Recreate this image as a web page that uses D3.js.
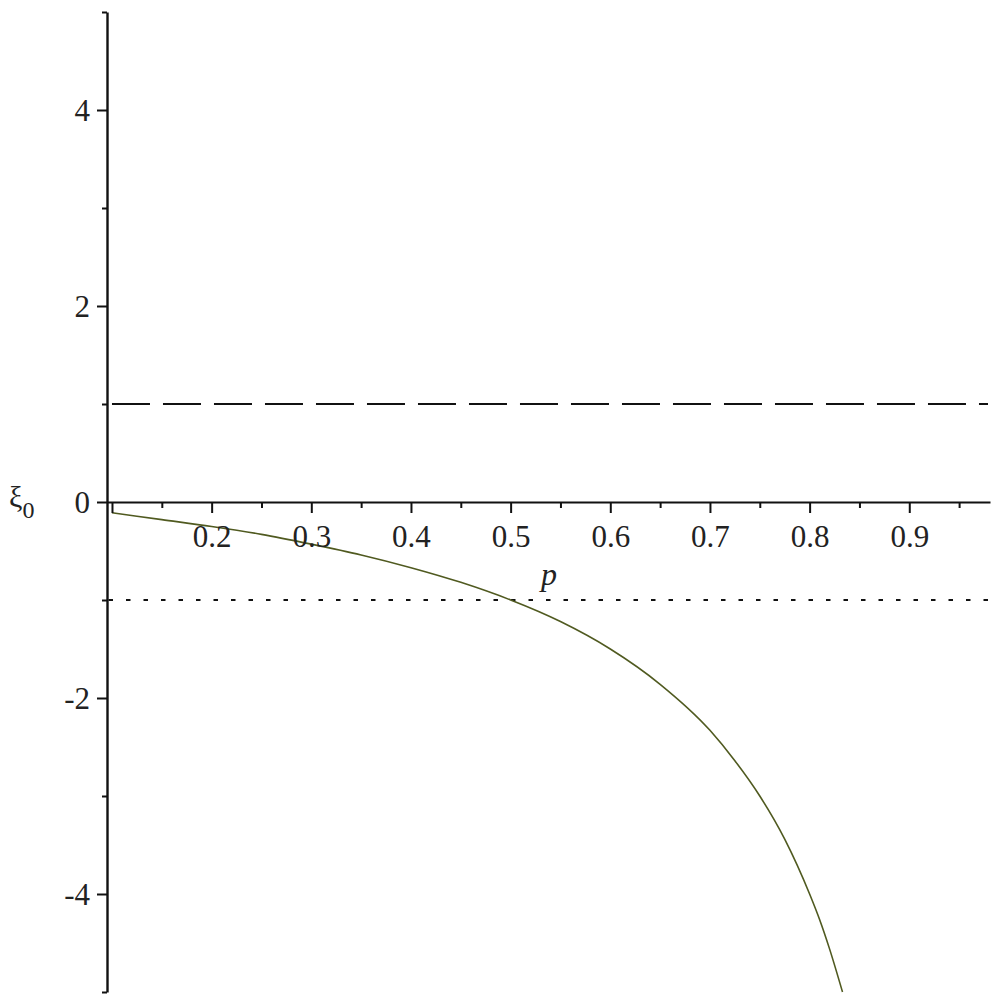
<!DOCTYPE html>
<html>
<head>
<meta charset="utf-8">
<script src="https://cdn.jsdelivr.net/npm/d3@7"></script>
<style>
  html, body { margin: 0; padding: 0; background: #fff; }
  svg { display: block; }
</style>
</head>
<body>
<svg id="chart" width="1000" height="997"></svg>
<script>
// ---- data ----
const pValues  = [0.10, 0.15, 0.20, 0.25, 0.30, 0.35, 0.40, 0.45, 0.50, 0.55, 0.60, 0.65, 0.70, 0.725, 0.75, 0.775, 0.80, 0.81, 0.82, 0.833];
const xiValues = [-0.11, -0.18, -0.25, -0.33, -0.43, -0.54, -0.67, -0.82, -1.00, -1.22, -1.50, -1.86, -2.33, -2.64, -3.00, -3.44, -4.00, -4.26, -4.56, -5.00];
const xMajorTicks = [0.1, 0.2, 0.3, 0.4, 0.5, 0.6, 0.7, 0.8, 0.9];
const xMinorTicks = [0.15, 0.25, 0.35, 0.45, 0.55, 0.65, 0.75, 0.85, 0.95];
const xTickLabels = ["", "0.2", "0.3", "0.4", "0.5", "0.6", "0.7", "0.8", "0.9"];
const yMajorTicks = [-4, -2, 0, 2, 4];
const yMinorTicks = [-5, -3, -1, 1, 3, 5];
const yTickLabels = ["-4", "-2", "0", "2", "4"];
const dashedLevel = 1;   // horizontal dashed line
const dottedLevel = -1;  // horizontal dotted line

const FONT = "\"Liberation Serif\"";

// ---- scales ----
const svg = d3.select("#chart");
const x = d3.scaleLinear().domain([0.095, 0.981]).range([107, 990]);
const y = d3.scaleLinear().domain([-5, 5]).range([992, 12]);

// ---- reference lines ----
svg.append("line")
  .attr("x1", x(0.1)).attr("x2", 988)
  .attr("y1", y(dashedLevel)).attr("y2", y(dashedLevel))
  .attr("stroke", "#111").attr("stroke-width", 2)
  .attr("stroke-dasharray", "38 13");

svg.append("line")
  .attr("x1", 108.5).attr("x2", 990)
  .attr("y1", y(dottedLevel)).attr("y2", y(dottedLevel))
  .attr("stroke", "#111").attr("stroke-width", 2)
  .attr("stroke-dasharray", "4.5 13");

// ---- curve ----
const line = d3.line()
  .x((d, i) => x(pValues[i]))
  .y(d => y(d))
  .curve(d3.curveMonotoneX);
svg.append("path")
  .datum(xiValues)
  .attr("d", line)
  .attr("fill", "none")
  .attr("stroke", "#505a20")
  .attr("stroke-width", 1.6);

// ---- x axis (through y=0) ----
const xAxisG = svg.append("g").attr("transform", `translate(0,${y(0)})`);
xAxisG.call(d3.axisBottom(x).tickValues(xMajorTicks).tickSize(11).tickSizeOuter(0)
  .tickFormat((d, i) => xTickLabels[i]));
xAxisG.attr("font-family", FONT).attr("font-size", 31);
xAxisG.select(".domain").attr("stroke", "#111").attr("stroke-width", 2.2);
xAxisG.selectAll(".tick line").attr("stroke", "#111").attr("stroke-width", 2);
xAxisG.selectAll(".tick text")
  .attr("y", 45).attr("dy", 0)
  .style("font-size", "31px").style("font-family", FONT).attr("fill", "#222");
const xMinorG = svg.append("g").attr("transform", `translate(0,${y(0)})`);
xMinorG.call(d3.axisBottom(x).tickValues(xMinorTicks).tickSize(6).tickSizeOuter(0).tickFormat(""));
xMinorG.select(".domain").remove();
xMinorG.selectAll(".tick line").attr("stroke", "#111").attr("stroke-width", 2);

// ---- y axis ----
const yAxisG = svg.append("g").attr("transform", `translate(${x(0.095)},0)`);
yAxisG.call(d3.axisLeft(y).tickValues(yMajorTicks).tickSize(10).tickSizeOuter(0)
  .tickFormat((d, i) => yTickLabels[i]));
yAxisG.attr("font-family", FONT).attr("font-size", 31);
yAxisG.select(".domain").attr("stroke", "#111").attr("stroke-width", 2.4);
yAxisG.selectAll(".tick line").attr("stroke", "#111").attr("stroke-width", 2);
yAxisG.selectAll(".tick text")
  .attr("x", -17).attr("dy", "0.34em")
  .style("font-size", "31px").style("font-family", FONT).attr("fill", "#222");
const yMinorG = svg.append("g").attr("transform", `translate(${x(0.095)},0)`);
yMinorG.call(d3.axisLeft(y).tickValues(yMinorTicks).tickSize(5).tickSizeOuter(0).tickFormat(""));
yMinorG.select(".domain").remove();
yMinorG.selectAll(".tick line").attr("stroke", "#111").attr("stroke-width", 2);

// ---- axis titles ----
const yt = svg.append("text").attr("x", 9).attr("y", 507).attr("fill", "#222")
  .style("font-size", "30px").style("font-family", FONT);
yt.append("tspan").text("ξ");
yt.append("tspan").attr("dy", 11).style("font-size", "24px").text("0");

svg.append("text").attr("x", 541).attr("y", 585).attr("fill", "#222")
  .style("font-size", "32px").style("font-style", "italic")
  .style("font-family", FONT).text("p");
</script>
</body>
</html>
